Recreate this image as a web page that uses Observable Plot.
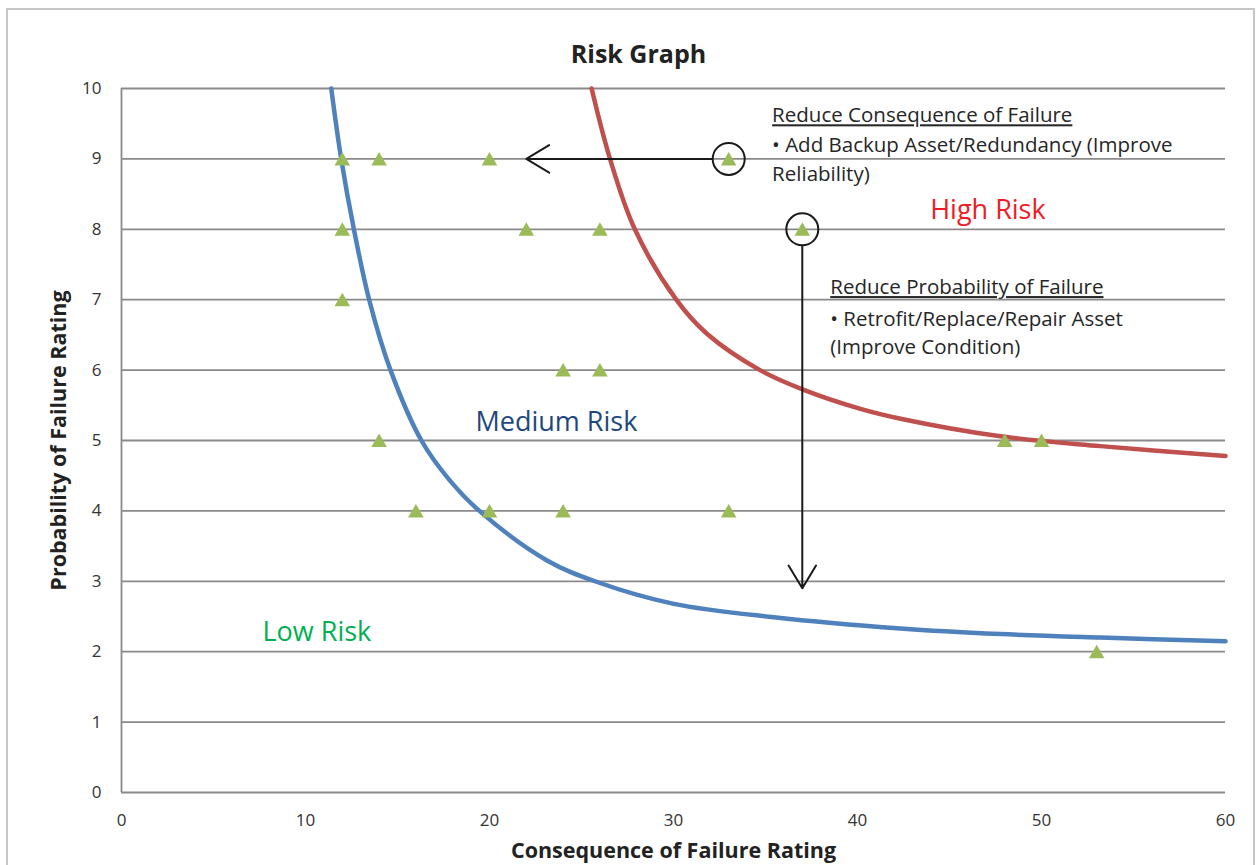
<!DOCTYPE html>
<html>
<head>
<meta charset="utf-8">
<script src="https://cdn.jsdelivr.net/npm/d3@7"></script>
<script src="https://cdn.jsdelivr.net/npm/@observablehq/plot@0.6"></script>
<style>
  html, body { margin: 0; padding: 0; background: #fff; overflow: hidden; }
  #wrap { position: relative; width: 1256px; height: 865px; }
  #border { position: absolute; left: 6px; top: 8px; width: 1245px; height: 900px; border: 2px solid #c6c6c6; box-sizing: content-box; }
  #chart { position: absolute; left: 0; top: 0; }
</style>
</head>
<body>
<div id="wrap"><div id="border"></div><div id="chart"></div></div>
<script>
// ---- data ----
const xTicks = [0, 10, 20, 30, 40, 50, 60];
const yTicks = [0, 1, 2, 3, 4, 5, 6, 7, 8, 9, 10];

const pointX = [12, 14, 20, 33, 12, 22, 26, 37, 12, 24, 26, 14, 48, 50, 16, 20, 24, 33, 53];
const pointY = [9, 9, 9, 9, 8, 8, 8, 8, 7, 6, 6, 5, 5, 5, 4, 4, 4, 4, 2];

const mediumCurveX = [11.40, 11.94, 12.63, 13.46, 14.62, 16.30, 17.85, 19.45, 23.10, 25.85, 30.02, 35.45, 42.34, 47.77, 53.21, 60];
const mediumCurveY = [10, 9, 8, 7, 6, 5, 4.43, 4.0, 3.30, 2.99, 2.68, 2.49, 2.33, 2.25, 2.20, 2.15];

const highCurveX = [25.55, 26.55, 27.90, 30.15, 31.80, 34.70, 37.08, 40.16, 42.34, 47.77, 53.21, 60];
const highCurveY = [10, 9, 8, 7, 6.52, 6, 5.72, 5.45, 5.31, 5.06, 4.92, 4.78];

const circledX = [33, 37];
const circledY = [9, 8];

const arrowFromX = [33, 37];
const arrowFromY = [9, 8];
const arrowToX = [22, 37];
const arrowToY = [9, 2.9];

const noteText = [
  "Reduce Consequence of Failure",
  "\u2022 Add Backup Asset/Redundancy (Improve",
  "Reliability)",
  "Reduce Probability of Failure",
  "\u2022 Retrofit/Replace/Repair Asset",
  "(Improve Condition)"
];
const noteX = [35.36, 35.36, 35.36, 38.52, 38.52, 38.52];
const noteY = [9.52, 9.10, 8.69, 7.08, 6.63, 6.23];

const zoneText = ["High Risk", "Medium Risk", "Low Risk"];
const zoneX = [43.95, 19.24, 7.66];
const zoneY = [8.15, 5.13, 2.15];
const zoneColor = ["#ee1c25", "#1f497d", "#00b050"];

const titleText = "Risk Graph";
const xLabel = "Consequence of Failure Rating";
const yLabel = "Probability of Failure Rating";

// ---- tables ----
const points = pointX.map((x, i) => ({x, y: pointY[i]}));
const medium = mediumCurveX.map((x, i) => ({x, y: mediumCurveY[i]}));
const high = highCurveX.map((x, i) => ({x, y: highCurveY[i]}));
const circled = circledX.map((x, i) => ({x, y: circledY[i]}));
const arrows = arrowFromX.map((x, i) => ({x1: x, y1: arrowFromY[i], x2: arrowToX[i], y2: arrowToY[i]}));
const notes = noteText.map((t, i) => ({t, x: noteX[i], y: noteY[i]}));
const zones = zoneText.map((t, i) => ({t, x: zoneX[i], y: zoneY[i], c: zoneColor[i]}));

const font = "'Open Sans', 'DejaVu Sans', sans-serif";

const chart = Plot.plot({
  width: 1256,
  height: 865,
  marginTop: 88,
  marginRight: 31,
  marginBottom: 73,
  marginLeft: 121,
  style: {fontFamily: font, background: "transparent", overflow: "visible"},
  x: {domain: [0, 60]},
  y: {domain: [0, 10]},
  marks: [
    Plot.gridY(yTicks, {stroke: "#8a8a8a", strokeOpacity: 1, strokeWidth: 1.8}),
    Plot.ruleX([0], {stroke: "#8a8a8a", strokeWidth: 1.8}),
    Plot.axisX(xTicks, {tickSize: 0, tickPadding: 21, fontSize: 17, fill: "#333", label: null, tickFormat: d => String(d)}),
    Plot.axisY(yTicks, {tickSize: 0, tickPadding: 20, fontSize: 17, fill: "#333", label: null, tickFormat: d => String(d)}),
    Plot.line(medium, {x: "x", y: "y", stroke: "#4f81bd", strokeWidth: 4.5, curve: "catmull-rom", strokeLinecap: "round"}),
    Plot.line(high, {x: "x", y: "y", stroke: "#c0504d", strokeWidth: 4.5, curve: "catmull-rom", strokeLinecap: "round"}),
    Plot.arrow(arrows, {x1: "x1", y1: "y1", x2: "x2", y2: "y2", insetStart: 17, headLength: 20, headAngle: 62, stroke: "#1a1a1a", strokeWidth: 2}),
    Plot.dot(points, {x: "x", y: "y", symbol: "triangle", r: 5.8, dy: 2, fill: "#9bbb59", stroke: "none"}),
    Plot.dot(circled, {x: "x", y: "y", r: 16, stroke: "#1a1a1a", strokeWidth: 2, fill: "none"}),
    Plot.text(notes, {x: "x", y: "y", text: "t", textAnchor: "start", lineAnchor: "bottom", fontSize: 20.5, fill: "#262626"}),
    Plot.text(zones, {x: "x", y: "y", text: "t", textAnchor: "start", lineAnchor: "bottom", fontSize: 27, fill: "c"}),
    Plot.text([titleText], {frameAnchor: "top", textAnchor: "middle", dx: -35, dy: -26, lineAnchor: "bottom", fontSize: 25, fontWeight: "bold", fill: "#222"}),
    Plot.text([xLabel], {frameAnchor: "bottom", textAnchor: "middle", dx: 0, dy: 65, lineAnchor: "bottom", fontSize: 21.5, fontWeight: "bold", fill: "#222"}),
    Plot.text([yLabel], {frameAnchor: "left", textAnchor: "middle", dx: -56, dy: 0, rotate: -90, lineAnchor: "bottom", fontSize: 21.5, fontWeight: "bold", fill: "#222"})
  ]
});

document.getElementById("chart").appendChild(chart);
chart.querySelectorAll("text").forEach(t => {
  if (t.textContent.startsWith("Reduce")) t.setAttribute("text-decoration", "underline");
});
</script>
</body>
</html>
